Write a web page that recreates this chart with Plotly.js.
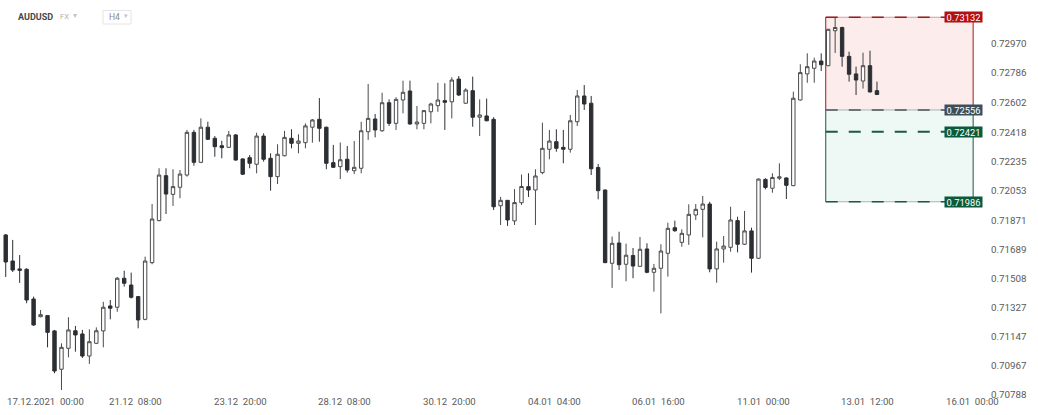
<!DOCTYPE html>
<html>
<head>
<meta charset="utf-8">
<script src="https://cdn.plot.ly/plotly-3.0.1.min.js"></script>
<style>
  html, body { margin: 0; padding: 0; background: #ffffff; }
  #chart { width: 1038px; height: 415px; }
</style>
</head>
<body>
<div id="chart"></div>
<script>
// ---- data (AUDUSD, H4) ----
const candleOpen = [
  0.71780,0.71618,0.71569,0.71567,0.71382,0.71272,0.71279,0.71184,0.70946,0.71076,
  0.71185,0.71165,0.71028,0.71107,0.71184,0.71339,0.71331,0.71511,0.71469,0.71397,
  0.71256,0.71608,0.71869,0.72148,0.72032,0.72076,0.72152,0.72417,0.72231,0.72449,
  0.72380,0.72334,0.72324,0.72401,0.72252,0.72260,0.72219,0.72394,0.72256,0.72142,
  0.72272,0.72380,0.72349,0.72353,0.72449,0.72498,0.72449,0.72229,0.72204,0.72250,
  0.72179,0.72194,0.72421,0.72500,0.72427,0.72601,0.72473,0.72618,0.72674,0.72469,
  0.72473,0.72545,0.72583,0.72614,0.72607,0.72748,0.72598,0.72676,0.72511,0.72519,
  0.72498,0.71961,0.71995,0.71867,0.71980,0.72080,0.72059,0.72167,0.72312,0.72359,
  0.72324,0.72312,0.72483,0.72643,0.72598,0.72199,0.72059,0.71604,0.71730,0.71598,
  0.71652,0.71585,0.71693,0.71548,0.71573,0.71666,0.71825,0.71734,0.71780,0.71904,
  0.71939,0.71972,0.71569,0.71693,0.71703,0.71869,0.71722,0.71805,0.71635,0.72125,
  0.72070,0.72132,0.72134,0.72086,0.72618,0.72780,0.72815,0.72860,0.72831,0.73048,
  0.73068,0.72889,0.72780,0.72736,0.72831,0.72676
];
const candleHigh = [
  0.71786,0.71749,0.71655,0.71573,0.71397,0.71314,0.71283,0.71190,0.71107,0.71269,
  0.71215,0.71190,0.71194,0.71206,0.71365,0.71376,0.71519,0.71558,0.71546,0.71401,
  0.71645,0.71972,0.72194,0.72194,0.72188,0.72183,0.72432,0.72432,0.72504,0.72483,
  0.72394,0.72365,0.72426,0.72407,0.72256,0.72276,0.72415,0.72411,0.72287,0.72343,
  0.72426,0.72436,0.72405,0.72473,0.72500,0.72630,0.72452,0.72339,0.72354,0.72332,
  0.72363,0.72483,0.72717,0.72531,0.72663,0.72622,0.72635,0.72738,0.72738,0.72581,
  0.72556,0.72601,0.72725,0.72722,0.72759,0.72767,0.72691,0.72763,0.72622,0.72627,
  0.72511,0.72016,0.71997,0.72065,0.72155,0.72163,0.72188,0.72477,0.72432,0.72436,
  0.72432,0.72525,0.72680,0.72711,0.72643,0.72221,0.72062,0.71770,0.71800,0.71726,
  0.71699,0.71767,0.71728,0.71600,0.71722,0.71856,0.71869,0.71815,0.71970,0.71972,
  0.72022,0.71986,0.71738,0.71773,0.71955,0.71893,0.71929,0.71825,0.72130,0.72132,
  0.72163,0.72225,0.72137,0.72670,0.72840,0.72908,0.72881,0.72908,0.73060,0.73132,
  0.73073,0.72918,0.72825,0.72912,0.72924,0.72732
];
const candleLow = [
  0.71519,0.71550,0.71482,0.71356,0.71215,0.71269,0.71082,0.70921,0.70817,0.71020,
  0.71055,0.71016,0.70979,0.71103,0.71082,0.71256,0.71303,0.71459,0.71385,0.71200,
  0.71250,0.71598,0.71865,0.71910,0.71960,0.72008,0.72142,0.72210,0.72226,0.72370,
  0.72266,0.72256,0.72320,0.72241,0.72152,0.72194,0.72163,0.72235,0.72055,0.72096,
  0.72268,0.72318,0.72287,0.72318,0.72353,0.72359,0.72188,0.72197,0.72127,0.72167,
  0.72158,0.72163,0.72370,0.72386,0.72420,0.72457,0.72432,0.72535,0.72465,0.72436,
  0.72436,0.72473,0.72545,0.72432,0.72504,0.72643,0.72594,0.72452,0.72394,0.72486,
  0.71935,0.71842,0.71836,0.71842,0.71966,0.72016,0.71842,0.72157,0.72250,0.72297,
  0.72225,0.72291,0.72457,0.72556,0.72152,0.72001,0.71605,0.71451,0.71562,0.71492,
  0.71511,0.71582,0.71542,0.71428,0.71293,0.71521,0.71800,0.71707,0.71718,0.71873,
  0.71765,0.71548,0.71483,0.71608,0.71676,0.71672,0.71718,0.71546,0.71632,0.72063,
  0.72042,0.72121,0.72003,0.72083,0.72615,0.72725,0.72725,0.72798,0.72828,0.72910,
  0.72825,0.72732,0.72649,0.72689,0.72665,0.72649
];
const candleClose = [
  0.71612,0.71562,0.71560,0.71376,0.71221,0.71285,0.71175,0.70935,0.71082,0.71190,
  0.71159,0.71028,0.71117,0.71185,0.71331,0.71325,0.71511,0.71480,0.71393,0.71252,
  0.71618,0.71879,0.72152,0.72034,0.72080,0.72158,0.72417,0.72231,0.72449,0.72374,
  0.72328,0.72322,0.72401,0.72245,0.72157,0.72225,0.72394,0.72250,0.72142,0.72281,
  0.72386,0.72349,0.72363,0.72457,0.72494,0.72442,0.72225,0.72200,0.72247,0.72183,
  0.72200,0.72427,0.72504,0.72432,0.72601,0.72473,0.72622,0.72666,0.72469,0.72481,
  0.72552,0.72593,0.72618,0.72604,0.72742,0.72649,0.72680,0.72511,0.72525,0.72489,
  0.71955,0.71995,0.71873,0.71981,0.72081,0.72059,0.72146,0.72318,0.72363,0.72318,
  0.72312,0.72489,0.72643,0.72593,0.72191,0.72055,0.71608,0.71728,0.71595,0.71654,
  0.71587,0.71691,0.71548,0.71573,0.71680,0.71821,0.71806,0.71790,0.71908,0.71939,
  0.71972,0.71569,0.71693,0.71711,0.71873,0.71722,0.71805,0.71635,0.72127,0.72075,
  0.72137,0.72141,0.72088,0.72629,0.72788,0.72825,0.72860,0.72837,0.73057,0.73068,
  0.72889,0.72778,0.72742,0.72831,0.72668,0.72652
];

// price axis tick labels
const priceTicks = [0.72970,0.72786,0.72602,0.72418,0.72235,0.72053,0.71871,0.71689,0.71508,0.71327,0.71147,0.70967,0.70788];

// time axis labels and the candle index they belong to
const timeLabels = ['17.12.2021  00:00','21.12  08:00','23.12  20:00','28.12  08:00','30.12  20:00','04.01  04:00','06.01  16:00','11.01  00:00','13.01  12:00','16.01  00:00'];
const timeLabelIndex = [4,19,34,49,64,79,94,109,124,139];

// risk / reward zone (short position)
const zoneStop   = 0.73132;
const zoneEntry  = 0.72556;
const zoneLevel  = 0.72421;
const zoneTarget = 0.71986;
const zoneStartIndex = 117.65;
const zoneEndIndex   = 138.8;
const zoneLineEndIndex = 134.9;

// header texts
const symbolName = 'AUDUSD';
const marketName = 'FX';
const timeframeName = 'H4';

// ---- layout geometry ----
const W = 1038, H = 415;
const M = {l: 0, r: 53, t: 0, b: 20};
const PW = W - M.l - M.r, PH = H - M.t - M.b;
const px2x = p => (p - M.l) / PW;
const px2y = p => 1 - (p - M.t) / PH;

const xIdx = candleOpen.map((_, i) => i);

const trace = {
  type: 'candlestick',
  x: xIdx,
  open: candleOpen, high: candleHigh, low: candleLow, close: candleClose,
  increasing: {line: {color: '#4a4a4a', width: 1}, fillcolor: '#ffffff'},
  decreasing: {line: {color: '#2b2f33', width: 1}, fillcolor: '#2b2f33'},
  whiskerwidth: 0,
  hoverinfo: 'skip',
  showlegend: false
};

const redLine = '#9c1c1c', greenLine = '#1d5a43';
const shapes = [
  {type:'rect', layer:'below', xref:'x', yref:'y', x0: zoneStartIndex, x1: zoneEndIndex, y0: zoneEntry, y1: zoneStop,
   fillcolor:'rgba(240,80,80,0.11)', line:{width:0}},
  {type:'rect', layer:'below', xref:'x', yref:'y', x0: zoneStartIndex, x1: zoneEndIndex, y0: zoneTarget, y1: zoneEntry,
   fillcolor:'rgba(40,170,110,0.08)', line:{width:0}},
  {type:'line', layer:'below', xref:'x', yref:'y', x0: zoneStartIndex, x1: zoneStartIndex, y0: zoneEntry, y1: zoneStop, line:{color:redLine, width:1}},
  {type:'line', layer:'below', xref:'x', yref:'y', x0: zoneEndIndex, x1: zoneEndIndex, y0: zoneEntry, y1: zoneStop, line:{color:redLine, width:1}},
  {type:'line', layer:'below', xref:'x', yref:'y', x0: zoneStartIndex, x1: zoneStartIndex, y0: zoneTarget, y1: zoneEntry, line:{color:greenLine, width:1}},
  {type:'line', layer:'below', xref:'x', yref:'y', x0: zoneEndIndex, x1: zoneEndIndex, y0: zoneTarget, y1: zoneEntry, line:{color:greenLine, width:1}},
  {type:'line', layer:'below', xref:'x', yref:'y', x0: zoneStartIndex, x1: zoneEndIndex, y0: zoneStop, y1: zoneStop, line:{color:'rgba(156,28,28,0.5)', width:0.8}},
  {type:'line', layer:'below', xref:'x', yref:'y', x0: zoneStartIndex, x1: zoneEndIndex, y0: zoneEntry, y1: zoneEntry, line:{color:'rgba(70,80,90,0.5)', width:0.8}},
  {type:'line', layer:'below', xref:'x', yref:'y', x0: zoneStartIndex, x1: zoneEndIndex, y0: zoneTarget, y1: zoneTarget, line:{color:'rgba(29,90,67,0.5)', width:0.8}},
  {type:'line', layer:'below', xref:'x', yref:'y', x0: zoneStartIndex, x1: zoneLineEndIndex, y0: zoneStop, y1: zoneStop, line:{color:redLine, width:1.6, dash:'12px,11px'}},
  {type:'line', layer:'below', xref:'x', yref:'y', x0: zoneStartIndex, x1: zoneLineEndIndex, y0: zoneEntry, y1: zoneEntry, line:{color:'#4a555d', width:1.4, dash:'12px,11px'}},
  {type:'line', layer:'below', xref:'x', yref:'y', x0: zoneStartIndex, x1: zoneLineEndIndex, y0: zoneLevel, y1: zoneLevel, line:{color:greenLine, width:2, dash:'12px,11px'}},
  {type:'line', layer:'below', xref:'x', yref:'y', x0: zoneStartIndex, x1: zoneLineEndIndex, y0: zoneTarget, y1: zoneTarget, line:{color:greenLine, width:1.6, dash:'12px,11px'}},
  // timeframe box in header
  {type:'rect', xref:'paper', yref:'paper', x0: px2x(103), x1: px2x(131), y0: px2y(24), y1: px2y(10.5),
   line:{color:'#e4e4e4', width:1}, fillcolor:'rgba(0,0,0,0)'}
];

const tagFont = {family:'Roboto, sans-serif', size: 9.3, color:'#ffffff'};
const tag = (price, bg) => ({
  xref:'paper', yref:'y', x: px2x(983), y: price, xanchor:'right', yanchor:'middle',
  text: price.toFixed(5), showarrow:false, bgcolor: bg, font: tagFont,
  width: 37, height: 10, borderpad: 0, align:'center'
});

const annotations = [
  tag(zoneStop, '#b3100f'),
  tag(zoneEntry, '#3e4f59'),
  tag(zoneLevel, '#0b5a3b'),
  tag(zoneTarget, '#0b5a3b'),
  {xref:'paper', yref:'paper', x: px2x(16), y: px2y(16.7), xanchor:'left', yanchor:'middle', showarrow:false,
   text:'<b>' + symbolName + '</b>', font:{family:'Roboto, sans-serif', size:9, color:'#474747'}},
  {xref:'paper', yref:'paper', x: px2x(57.5), y: px2y(16.9), xanchor:'left', yanchor:'middle', showarrow:false,
   text: marketName, font:{family:'Roboto, sans-serif', size:7.5, color:'#b0b0b0'}},
  {xref:'paper', yref:'paper', x: px2x(70.5), y: px2y(15.8), xanchor:'left', yanchor:'middle', showarrow:false,
   text:'\u25BE', font:{family:'DejaVu Sans, sans-serif', size:8, color:'#c4c4c4'}},
  {xref:'paper', yref:'paper', x: px2x(106.5), y: px2y(17), xanchor:'left', yanchor:'middle', showarrow:false,
   text: timeframeName, font:{family:'Roboto, sans-serif', size:8.5, color:'#8a8a8a'}},
  {xref:'paper', yref:'paper', x: px2x(122), y: px2y(16.3), xanchor:'left', yanchor:'middle', showarrow:false,
   text:'\u25BE', font:{family:'DejaVu Sans, sans-serif', size:7, color:'#c4c4c4'}}
];

timeLabels.forEach((lab, i) => {
  const txt = lab.replace(/ /g, '\u00a0');
  const base = {yref:'paper', y: px2y(401.7), yanchor:'middle', showarrow:false, text: txt,
    font:{family:'Roboto, sans-serif', size:9.6, color:'#5a5a5a'}};
  if (i === 0) {
    annotations.push(Object.assign(base, {xref:'paper', x: px2x(5), xanchor:'left'}));
  } else {
    annotations.push(Object.assign(base, {xref:'x', x: timeLabelIndex[i], xanchor:'center', xshift:-2.3}));
  }
});

const layout = {
  width: W, height: H,
  margin: M,
  paper_bgcolor:'#ffffff', plot_bgcolor:'#ffffff',
  showlegend: false,
  xaxis: {
    range: [-0.82, 140.5], showgrid:false, zeroline:false, showline:false,
    showticklabels:false, ticks:'', rangeslider:{visible:false}, fixedrange:true
  },
  yaxis: {
    range: [0.70786, 0.73239], side:'right', showgrid:false, zeroline:false, showline:false,
    tickvals: priceTicks, ticktext: priceTicks.map(v => v.toFixed(5)), ticks:'',
    ticklabelstandoff: 5,
    tickfont:{family:'Roboto, sans-serif', size:9.8, color:'#5a5a5a'}, fixedrange:true
  },
  shapes: shapes,
  annotations: annotations
};

Plotly.newPlot('chart', [trace], layout, {displayModeBar:false, staticPlot:true});
</script>
</body>
</html>
